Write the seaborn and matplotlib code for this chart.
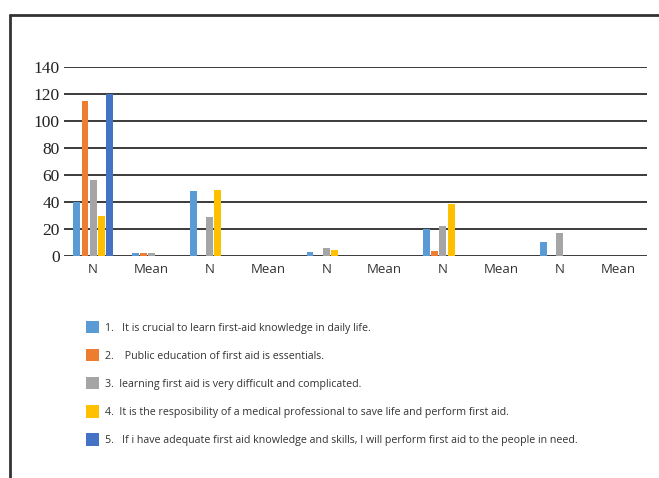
import matplotlib
matplotlib.use("Agg")
import matplotlib.pyplot as plt
from matplotlib.patches import Patch
from matplotlib.lines import Line2D
import seaborn as sns
import pandas as pd

categories = ["N", "Mean", "N ", "Mean ", "N  ", "Mean  ", "N   ", "Mean   ", "N    ", "Mean    "]
tick_labels = ["N", "Mean", "N", "Mean", "N", "Mean", "N", "Mean", "N", "Mean"]
series_names = [
    "1.   It is crucial to learn first-aid knowledge in daily life.",
    "2.    Public education of first aid is essentials.",
    "3.  learning first aid is very difficult and complicated.",
    "4.  It is the resposibility of a medical professional to save life and perform first aid.",
    "5.   If i have adequate first aid knowledge and skills, I will perform first aid to the people in need.",
]
s1 = [40, 2.5, 48, 0, 3, 0, 20, 0, 10, 0]
s2 = [115, 2.5, 0, 0, 0, 0, 4, 0, 0, 0]
s3 = [56, 2.5, 29, 0, 6, 0, 22, 0, 17, 0]
s4 = [30, 0, 49, 0, 4.5, 0, 38.5, 0, 0, 0]
s5 = [120, 0, 0, 0, 0, 0, 0, 0, 0, 0]
colors = ["#5B9BD5", "#ED7D31", "#A5A5A5", "#FFC000", "#4472C4"]

rows = []
for name, vals in zip(series_names, [s1, s2, s3, s4, s5]):
    for c, v in zip(categories, vals):
        rows.append({"cat": c, "series": name, "value": v})
df = pd.DataFrame(rows)

sns.set_theme(style="white")
fig = plt.figure(figsize=(6.59, 4.78), dpi=100)
ax = fig.add_axes([64/659, 1-256/478, (647-64)/659, (256-67)/478])

sns.barplot(data=df, x="cat", y="value", hue="series", order=categories,
            hue_order=series_names, palette=colors, width=0.7, gap=0.15,
            saturation=1, errorbar=None, ax=ax, legend=False, linewidth=0)

ax.set_ylim(0, 140)
ax.set_yticks(range(0, 141, 20))
ax.set_xlim(-0.5, 9.5)
ax.yaxis.grid(True, color="#1a1a1a", linewidth=1.2)
ax.set_axisbelow(True)
for s in ax.spines.values():
    s.set_visible(False)
ax.set_xlabel("")
ax.set_ylabel("")
ax.set_xticks(range(10))
ax.set_xticklabels(tick_labels, fontfamily="Open Sans", fontsize=9.5, color="#333333")
ax.tick_params(axis="x", length=0, pad=5)
ax.tick_params(axis="y", length=0, pad=3)
for t in ax.get_yticklabels():
    t.set_fontfamily("Liberation Serif")
    t.set_fontsize(12.5)
    t.set_color("#222222")

handles = [Patch(facecolor=c, edgecolor="none") for c in colors]
fig.legend(handles, series_names, loc="upper left",
           bbox_to_anchor=(76/659, 1-311/478), frameon=False,
           prop={"family": "Open Sans", "size": 7.7},
           handlelength=1.25, handleheight=1.45, handletextpad=0.6,
           labelspacing=1.42, labelcolor="#333333")

fig.add_artist(Line2D([9.5/659, 1.0], [1-14.5/478, 1-14.5/478], color="#333333", linewidth=2))
fig.add_artist(Line2D([9.5/659, 9.5/659], [1-14.5/478, 0], color="#333333", linewidth=2))

fig.savefig("out.png", dpi=100)
